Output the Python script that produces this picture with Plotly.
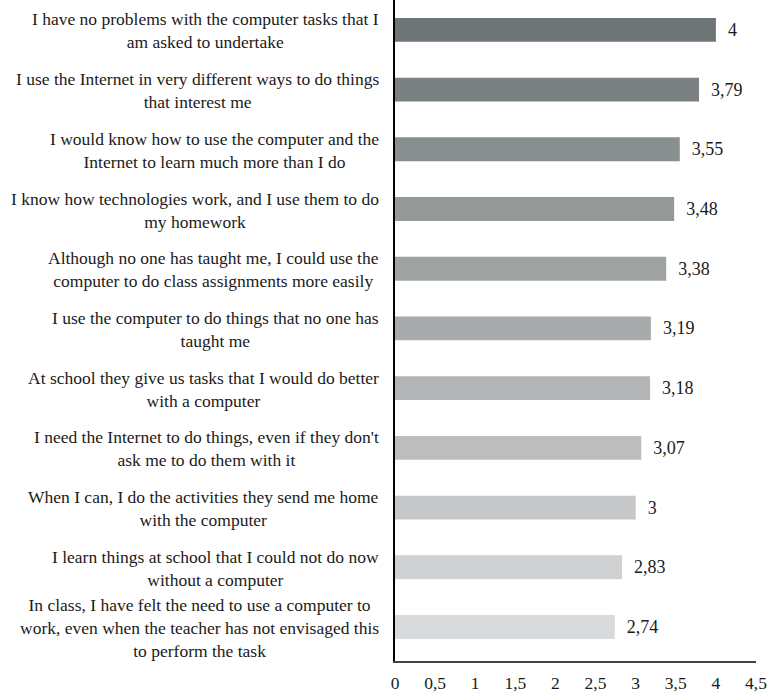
import plotly.graph_objects as go

labels = [
    "I have no problems with the computer tasks that I<br>am asked to undertake",
    "I use the Internet in very different ways to do things<br>that interest me",
    "I would know how to use the computer and the<br>Internet to learn much more than I do",
    "I know how technologies work, and I use them to do<br>my homework",
    "Although no one has taught me, I could use the<br>computer to do class assignments more easily",
    "I use the computer to do things that no one has<br>taught me",
    "At school they give us tasks that I would do better<br>with a computer",
    "I need the Internet to do things, even if they don't<br>ask me to do them with it",
    "When I can, I do the activities they send me home<br>with the computer",
    "I learn things at school that I could not do now<br>without a computer",
    "In class, I have felt the need to use a computer to<br>work, even when the teacher has not envisaged this<br>to perform the task",
]
values = [4.00, 3.79, 3.55, 3.48, 3.38, 3.19, 3.18, 3.07, 3.00, 2.83, 2.74]
colors = ["#6e7576", "#7b8182", "#898e8f", "#95999a", "#9fa2a3", "#a8abac",
          "#b2b4b5", "#bbbdbe", "#c6c7c8", "#d0d1d2", "#d9dadb"]
xticks = [0, 0.5, 1, 1.5, 2, 2.5, 3, 3.5, 4, 4.5]

cats = [f"c{i}" for i in range(len(labels))]
text = ["  " + f"{v:g}".replace(".", ",") for v in values]

FONT = "Liberation Serif"

fig = go.Figure(go.Bar(
    x=values, y=cats, orientation="h",
    marker=dict(color=colors, line=dict(width=0)),
    text=text, textposition="outside", cliponaxis=False,
    textfont=dict(family=FONT, size=18, color="#1a1a1a"),
    hoverinfo="skip",
))

for c, lab in zip(cats, labels):
    fig.add_annotation(
        x=0, xref="paper", y=c, yref="y", text=lab,
        xanchor="right", yanchor="middle", align="center", xshift=-14,
        yshift=-1,
        showarrow=False, font=dict(family=FONT, size=17.5, color="#1a1a1a"),
    )

fig.update_layout(
    width=769, height=694,
    margin=dict(l=395, r=13, t=0, b=33, autoexpand=False),
    paper_bgcolor="white", plot_bgcolor="white",
    separators=", ",
    bargap=0.6,
    showlegend=False,
    font=dict(family=FONT, size=17, color="#1a1a1a"),
)
fig.update_xaxes(
    range=[0, 4.5], tickvals=xticks,
    ticktext=[f"{t:g}".replace(".", ",") for t in xticks],
    showgrid=False, zeroline=False, automargin=False,
    showline=True, linecolor="#444444", linewidth=1.5,
    ticks="", ticklabelstandoff=5,
    tickfont=dict(family=FONT, size=17.5, color="#1a1a1a"),
)
fig.update_yaxes(
    categoryorder="array", categoryarray=cats, autorange="reversed",
    showticklabels=False, showgrid=False, zeroline=False, automargin=False,
    showline=True, linecolor="#000000", linewidth=1.5, ticks="",
)

fig.write_html("out.html")
